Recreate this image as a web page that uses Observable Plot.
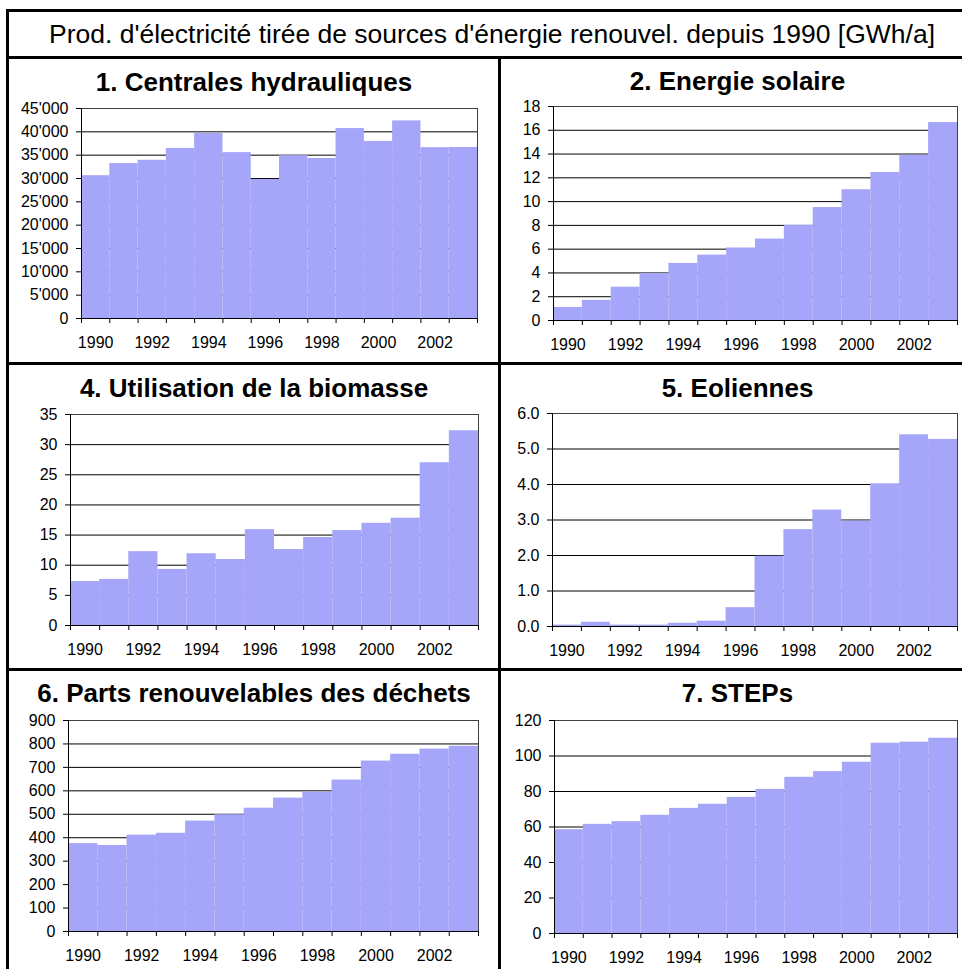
<!DOCTYPE html>
<html><head><meta charset="utf-8">
<script src="https://cdn.jsdelivr.net/npm/d3@7"></script>
<script src="https://cdn.jsdelivr.net/npm/@observablehq/plot@0.6"></script>
<style>
body{margin:0;background:#fff;}
#root{position:relative;width:962px;height:969px;overflow:hidden;font-family:"Liberation Sans",Arial,sans-serif;background:#fff;}
.line{position:absolute;background:#000;}
.ttl{position:absolute;font-weight:bold;font-size:26px;white-space:nowrap;transform:translateX(-50%);line-height:1;color:#000;}
.panel{position:absolute;}
</style></head><body><div id="root"></div>
<script>
// ---- data ----
const years = [1990,1991,1992,1993,1994,1995,1996,1997,1998,1999,2000,2001,2002,2003];
const yearLabels = [1990,1992,1994,1996,1998,2000,2002];
const hydro   = [30600,33200,33900,36450,39650,35550,29800,34900,34300,40700,37950,42350,36600,36650];
const solar   = [1.1,1.7,2.8,3.95,4.8,5.5,6.1,6.85,8.0,9.5,11.0,12.45,13.9,16.65];
const biomass = [7.3,7.65,12.25,9.3,11.9,10.95,15.9,12.6,14.6,15.75,16.95,17.8,27.0,32.3];
const wind    = [0.04,0.12,0.04,0.04,0.09,0.15,0.53,1.98,2.73,3.28,2.97,4.02,5.4,5.27];
const waste   = [375,367,411,419,471,498,526,569,594,646,727,756,778,790];
const steps   = [58.5,61.5,63,66.6,70.5,72.8,76.7,81.2,88,91.2,96.5,107.2,107.8,110];
const hydroTicks   = [0,5000,10000,15000,20000,25000,30000,35000,40000,45000];
const solarTicks   = [0,2,4,6,8,10,12,14,16,18];
const biomassTicks = [0,5,10,15,20,25,30,35];
const windTicks    = [0,1,2,3,4,5,6];
const wasteTicks   = [0,100,200,300,400,500,600,700,800,900];
const stepsTicks   = [0,20,40,60,80,100,120];
const titleMain = "Prod. d'électricité tirée de sources d'énergie renouvel. depuis 1990 [GWh/a]";
const panelTitles = ["1. Centrales hydrauliques","2. Energie solaire","4. Utilisation de la biomasse","5. Eoliennes","6. Parts renouvelables des déchets","7. STEPs"];

const root = document.getElementById("root");
const BAR = "#a5a5fa";
const swiss = d3.formatLocale({decimal:".", thousands:"'", grouping:[3], currency:["",""]}).format(",");

function panel(values, ticks, fmt, left, top, width, mL, mR, plotH, mB) {
  const data = years.map((y,i)=>({x1:y, x2:y+1, v:values[i]}));
  const edges = [...years, years[years.length-1]+1];
  const p = Plot.plot({
    width, height: 12 + plotH + mB,
    marginLeft: mL, marginRight: mR, marginTop: 12, marginBottom: mB,
    x: {domain: [years[0], years[years.length-1]+1], label: null},
    y: {domain: [ticks[0], ticks[ticks.length-1]], label: null},
    style: {fontFamily:'"Liberation Sans", Arial, sans-serif', fontSize:"16px", color:"#000", background:"transparent", overflow:"visible"},
    marks: [
      Plot.gridY(ticks, {stroke:"#000", strokeOpacity:1}),
      Plot.rect(data, {x1:"x1", x2:"x2", y1:0, y2:"v", fill:BAR}),
      Plot.frame({stroke:"#404040"}),
      Plot.axisY(ticks, {tickSize:5, tickPadding:8, tickFormat:fmt, stroke:"#000", label:null}),
      Plot.axisX(edges, {tickSize:5, tickFormat:()=>"", stroke:"#000", label:null}),
      Plot.axisX(yearLabels.map(y=>y+0.5), {tickSize:0, tickPadding:18, tickFormat:d=>String(Math.floor(d)), label:null}),
      Plot.ruleY([ticks[0]], {stroke:"#000"}),
      Plot.ruleX([years[0]], {stroke:"#000"})
    ]
  });
  p.classList.add("panel");
  p.style.left = left + "px";
  p.style.top = (top - 12) + "px";
  root.appendChild(p);
}

// header
const ns = "http://www.w3.org/2000/svg";
const hs = document.createElementNS(ns, "svg");
hs.setAttribute("width", 962); hs.setAttribute("height", 60);
hs.style.position = "absolute"; hs.style.left = "0px"; hs.style.top = "0px";
const ht = document.createElementNS(ns, "text");
ht.setAttribute("x", 49); ht.setAttribute("y", 43);
ht.setAttribute("font-size", 25);
ht.setAttribute("font-family", '"Liberation Sans Narrow", "Liberation Sans", Arial, sans-serif');
ht.setAttribute("textLength", 886);
ht.setAttribute("lengthAdjust", "spacingAndGlyphs");
ht.textContent = titleMain;
hs.appendChild(ht);
root.appendChild(hs);

// panels
panel(hydro,   hydroTicks,   swiss,            8,   108, 490, 73, 21, 210, 40);
panel(solar,   solarTicks,   d=>String(d),     501, 106, 461, 52, 5,  214, 40);
panel(biomass, biomassTicks, d=>String(d),     8,   414, 490, 62, 20, 211, 40);
panel(wind,    windTicks,    d3.format(".1f"), 501, 413, 461, 51, 5,  213, 40);
panel(waste,   wasteTicks,   d=>String(d),     8,   720, 490, 60, 20, 211, 38);
panel(steps,   stepsTicks,   d=>String(d),     501, 720, 461, 53, 5,  213, 36);

// titles
const tpos = [[254,92.3],[737.5,91.7],[254,398],[737.5,398],[254,703.3],[737.5,703]];
panelTitles.forEach((t,i)=>{
  const d = document.createElement("div");
  d.className = "ttl";
  d.textContent = t;
  d.style.left = tpos[i][0] + "px";
  d.style.top = (tpos[i][1] - 23.5) + "px";
  root.appendChild(d);
});

// frame lines
function line(l,t,w,h){const d=document.createElement("div");d.className="line";Object.assign(d.style,{left:l+"px",top:t+"px",width:w+"px",height:h+"px"});root.appendChild(d);}
line(6,9,956,3);
line(6,9,3,960);
line(6,56,956,3);
line(6,362,956,3);
line(6,668,956,3);
line(498,56,3,913);
</script>
</body></html>
